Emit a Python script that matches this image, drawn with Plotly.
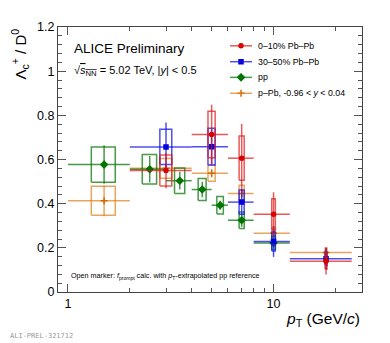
import plotly.graph_objects as go

# Lambda_c / D0 ratio
# 0-10% Pb-Pb
PBPB010_LO = [2, 4, 6, 8, 12]
PBPB010_HI = [4, 6, 8, 12, 24]
PBPB010_PT = [3, 5, 7, 10, 18]
PBPB010_R = [0.550, 0.713, 0.606, 0.352, 0.139]
PBPB010_STAT = [0.08, 0.135, 0.155, 0.10, 0.06]
PBPB010_SYST = [0.07, 0.105, 0.10, 0.07, 0.035]

# 30-50% Pb-Pb
PBPB3050_LO = [2, 4, 6, 8, 12]
PBPB3050_HI = [4, 6, 8, 12, 24]
PBPB3050_PT = [3, 5, 7, 10, 18]
PBPB3050_R = [0.657, 0.658, 0.407, 0.229, 0.151]
PBPB3050_STAT = [0.11, 0.08, 0.06, 0.07, 0.05]
PBPB3050_SYST = [0.08, 0.083, 0.055, 0.043, 0.03]

# pp
PP_LO = [1, 2, 3, 4, 5, 6, 8]
PP_HI = [2, 3, 4, 5, 6, 8, 12]
PP_PT = [1.5, 2.5, 3.5, 4.5, 5.5, 7, 10]
PP_R = [0.577, 0.556, 0.504, 0.464, 0.393, 0.325, 0.222]
PP_STAT = [0.087, 0.06, 0.04, 0.035, 0.02, 0.03, 0.02]
PP_SYST = [0.08, 0.067, 0.058, 0.05, 0.04, 0.037, 0.03]

# p-Pb
PPB_LO = [1, 2, 4, 6, 8, 12]
PPB_HI = [2, 4, 6, 8, 12, 24]
PPB_PT = [1.5, 3, 5, 7, 10, 18]
PPB_R = [0.413, 0.560, 0.538, 0.446, 0.266, 0.179]
PPB_STAT = [0.07, 0.02, 0.02, 0.02, 0.015, 0.015]
PPB_SYST = [0.066, 0.045, 0.037, 0.037, 0.025, 0.02]

BOX_HW = 0.2  # half width of syst boxes in GeV/c

SERIES = [
    dict(name="0\u201310% Pb\u2013Pb", lo=PBPB010_LO, hi=PBPB010_HI, pt=PBPB010_PT, r=PBPB010_R,
         stat=PBPB010_STAT, syst=PBPB010_SYST, mc="rgb(215,0,0)", lc="rgba(222,20,20,0.7)", sym="circle", ms=4),
    dict(name="30\u201350% Pb\u2013Pb", lo=PBPB3050_LO, hi=PBPB3050_HI, pt=PBPB3050_PT, r=PBPB3050_R,
         stat=PBPB3050_STAT, syst=PBPB3050_SYST, mc="rgb(0,0,215)", lc="rgba(20,20,235,0.75)", sym="square", ms=4),
    dict(name="pp", lo=PP_LO, hi=PP_HI, pt=PP_PT, r=PP_R,
         stat=PP_STAT, syst=PP_SYST, mc="rgb(0,115,0)", lc="rgba(10,120,10,0.75)", sym="diamond", ms=5),
    dict(name="p\u2013Pb, -0.96 < <i>y</i> < 0.04", lo=PPB_LO, hi=PPB_HI, pt=PPB_PT, r=PPB_R,
         stat=PPB_STAT, syst=PPB_SYST, mc="rgb(215,105,0)", lc="rgba(225,125,25,0.7)", sym="cross-thin", ms=5),
]

fig = go.Figure()

# order of drawing: pp and p-Pb underneath, Pb-Pb on top
for s in [SERIES[3], SERIES[2], SERIES[1], SERIES[0]]:
    # syst boxes
    bx, by = [], []
    for p, r, e in zip(s["pt"], s["r"], s["syst"]):
        bx += [p - BOX_HW, p + BOX_HW, p + BOX_HW, p - BOX_HW, p - BOX_HW, None]
        by += [r - e, r - e, r + e, r + e, r - e, None]
    fig.add_trace(go.Scatter(x=bx, y=by, mode="lines", line=dict(color=s["lc"], width=1.5),
                             showlegend=False, hoverinfo="skip"))
    # points with stat errors and bin widths
    fig.add_trace(go.Scatter(
        x=s["pt"], y=s["r"], mode="markers",
        marker=dict(symbol=s["sym"], size=s["ms"], color=s["mc"],
                    line=dict(color=s["mc"], width=1.5)),
        error_x=dict(type="data", symmetric=False,
                     array=[h - p for h, p in zip(s["hi"], s["pt"])],
                     arrayminus=[p - l for l, p in zip(s["lo"], s["pt"])],
                     color=s["lc"], thickness=1.5, width=0),
        error_y=dict(type="data", array=s["stat"], color=s["lc"], thickness=1.5, width=0),
        showlegend=False))

# hand made legend (ROOT style, tight spacing), drawn on an overlay axis spanning the frame
LEG_X0, LEG_X1, LEG_TX = 0.566, 0.638, 0.652
LEG_Y = [0.929, 0.869, 0.810, 0.750]
shapes = []
annots = []
for s, ly in zip(SERIES, LEG_Y):
    shapes.append(dict(type="line", xref="paper", yref="paper", x0=LEG_X0, x1=LEG_X1, y0=ly, y1=ly,
                       line=dict(color=s["lc"], width=1.5)))
    fig.add_trace(go.Scatter(x=[(LEG_X0 + LEG_X1) / 2], y=[ly], xaxis="x2", yaxis="y2", mode="markers",
                             marker=dict(symbol=s["sym"], size=s["ms"], color=s["mc"],
                                         line=dict(color=s["mc"], width=1.5)),
                             showlegend=False, hoverinfo="skip"))
    annots.append(dict(text=s["name"], x=LEG_TX, y=ly, xref="paper", yref="paper", xanchor="left",
                       yanchor="middle", showarrow=False, font=dict(size=8.8)))

axis_common = dict(showline=True, linecolor="#444", linewidth=1, mirror="allticks",
                   ticks="inside", tickcolor="#555", showgrid=False, zeroline=False,
                   tickfont=dict(size=12.5, color="black"))

fig.update_xaxes(type="log", range=[-0.048, 1.43], tickvals=[1, 10], ticktext=["1", "10"], ticklen=8,
                 minor=dict(tickvals=[2, 3, 4, 5, 6, 7, 8, 9, 20], ticks="inside", ticklen=4, tickcolor="#555"),
                 **axis_common)
fig.update_yaxes(range=[0, 1.2], tickvals=[0, 0.2, 0.4, 0.6, 0.8, 1.0, 1.2],
                 ticktext=["0", "0.2", "0.4", "0.6", "0.8", "1", "1.2"], ticklen=8,
                 minor=dict(dtick=0.04, ticks="inside", ticklen=4, tickcolor="#555"),
                 **axis_common)

annots += [
    dict(text="ALICE Preliminary", x=0.045, y=0.918, xref="paper", yref="paper",
         xanchor="left", yanchor="middle", showarrow=False, font=dict(size=13.5)),
    dict(text="\u221a<span style='text-decoration:overline'><i>s</i><sub>NN</sub></span> = 5.02 TeV, |<i>y</i>| < 0.5",
         x=0.045, y=0.835, xref="paper", yref="paper",
         xanchor="left", yanchor="middle", showarrow=False, font=dict(size=11)),
    dict(text="Open marker: <i>f</i><sub>prompt</sub> calc. with <i>p</i><sub>T</sub>-extrapolated pp reference",
         x=0.035, y=0.06, xref="paper", yref="paper",
         xanchor="left", yanchor="middle", showarrow=False, font=dict(size=7.2)),
    dict(text="\u039b<sub>c</sub><sup>+</sup> / D<sup>0</sup>", x=-0.125, y=1.0, xref="paper", yref="paper",
         xanchor="center", yanchor="top", textangle=-90, showarrow=False, font=dict(size=15)),
    dict(text="<i>p</i><sub>T</sub> (GeV/<i>c</i>)", x=1.0, y=-0.06, xref="paper", yref="paper",
         xanchor="right", yanchor="top", showarrow=False, font=dict(size=15.5)),
    dict(text="ALI-PREL-321712", x=0, y=0.0, xref="paper", yref="paper",
         xanchor="left", yanchor="bottom", showarrow=False, xshift=-50, yshift=-50,
         font=dict(size=7, color="#999", family="DejaVu Sans Mono, monospace")),
]

# the page body has an 8px margin, so the figure is 8px smaller than the window
fig.update_layout(
    width=382, height=335,
    margin=dict(l=50, r=28, t=16, b=51),
    plot_bgcolor="white", paper_bgcolor="white",
    font=dict(family="Liberation Sans, Arial, sans-serif", color="black"),
    showlegend=False,
    xaxis2=dict(overlaying="x", range=[0, 1], visible=False),
    yaxis2=dict(overlaying="y", range=[0, 1], visible=False),
    shapes=shapes,
    annotations=annots,
)

fig.write_html("out.html")
